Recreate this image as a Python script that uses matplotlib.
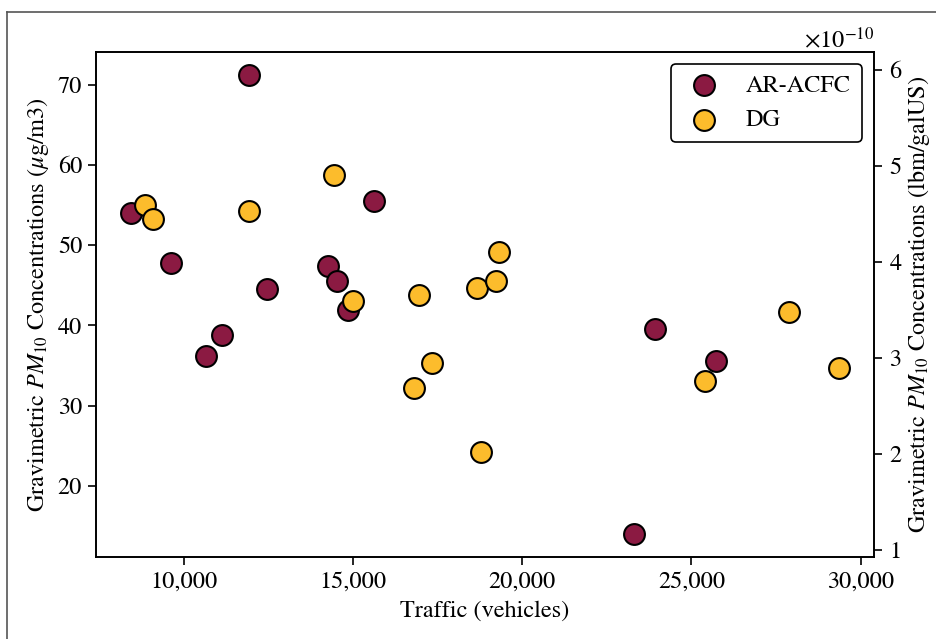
import numpy as np
import matplotlib
matplotlib.use("Agg")
import matplotlib.pyplot as plt
from matplotlib.ticker import FuncFormatter, ScalarFormatter
from matplotlib.lines import Line2D

plt.rcParams['font.family'] = ['STIXGeneral', 'DejaVu Serif']
plt.rcParams['mathtext.fontset'] = 'stix'

# traffic counts (vehicles) and PM10 (ug/m3) per site group
ar_traffic = [11930, 8450, 9610, 12470, 15610, 14270, 14540, 14850,
              23910, 11120, 10640, 25720, 23290]
ar_pm10 = [71.25, 54.0, 47.8, 44.5, 55.45, 47.35, 45.5, 41.95,
           39.6, 38.75, 36.2, 35.6, 13.95]

dg_traffic = [8850, 9090, 11930, 14430, 14990, 16960, 18670, 19300,
              19210, 27890, 17330, 16810, 18790, 25390, 29350]
dg_pm10 = [55.05, 53.3, 54.2, 58.8, 43.05, 43.8, 44.7, 49.15,
           45.5, 41.65, 35.3, 32.2, 24.25, 33.0, 34.7]

# ug/m3 -> lbm/galUS
conv = 8.3454e-12

ar_color = '#8b1a42'
dg_color = '#fcbc2c'
fs = 17.5

fig = plt.figure(figsize=(9.36, 6.39), dpi=100)
ax = fig.add_axes([0.1026, 0.128, 0.8312, 0.791])

ax.scatter(ar_traffic, ar_pm10, s=225, c=ar_color, edgecolors='black',
           linewidths=1.5, label='AR-ACFC', zorder=3)
ax.scatter(dg_traffic, dg_pm10, s=225, c=dg_color, edgecolors='black',
           linewidths=1.5, label='DG', zorder=3)

ax.xaxis.set_major_formatter(FuncFormatter(lambda v, p: f'{v:,.0f}'))
ax.set_xlabel('Traffic (vehicles)', fontsize=fs, labelpad=6)
ax.set_ylabel(r'Gravimetric $PM_{10}$ Concentrations ($\mu$g/m3)', fontsize=fs,
              labelpad=5)
ax.tick_params(labelsize=fs, length=6, width=1.2, pad=4)
for sp in ax.spines.values():
    sp.set_linewidth(1.2)

leg = ax.legend(loc='upper right', fontsize=fs, frameon=True, fancybox=True,
                edgecolor='black', framealpha=1, borderpad=0.45,
                handlelength=1.8, handletextpad=0.82, labelspacing=0.5)
leg.get_frame().set_linewidth(1.2)

ax2 = ax.twinx()
ax2.set_ylim(np.array(ax.get_ylim()) * conv)
fmt = ScalarFormatter(useMathText=True)
ax2.yaxis.set_major_formatter(fmt)
ax2.yaxis.get_offset_text().set_fontsize(fs)
ax2.set_ylabel(r'Gravimetric $PM_{10}$ Concentrations (lbm/galUS)', fontsize=fs,
               labelpad=2)
ax2.tick_params(labelsize=fs, length=6, width=1.2, pad=5)
for sp in ax2.spines.values():
    sp.set_linewidth(1.2)

# thin outer frame (left and top edges)
frame_x = 0.008
frame_y = 0.981
fig.add_artist(Line2D([frame_x, frame_x], [0, frame_y], transform=fig.transFigure,
                      color='#555555', linewidth=1.2))
fig.add_artist(Line2D([frame_x, 1], [frame_y, frame_y], transform=fig.transFigure,
                      color='#555555', linewidth=1.2))

fig.savefig('out.png', dpi=100)
